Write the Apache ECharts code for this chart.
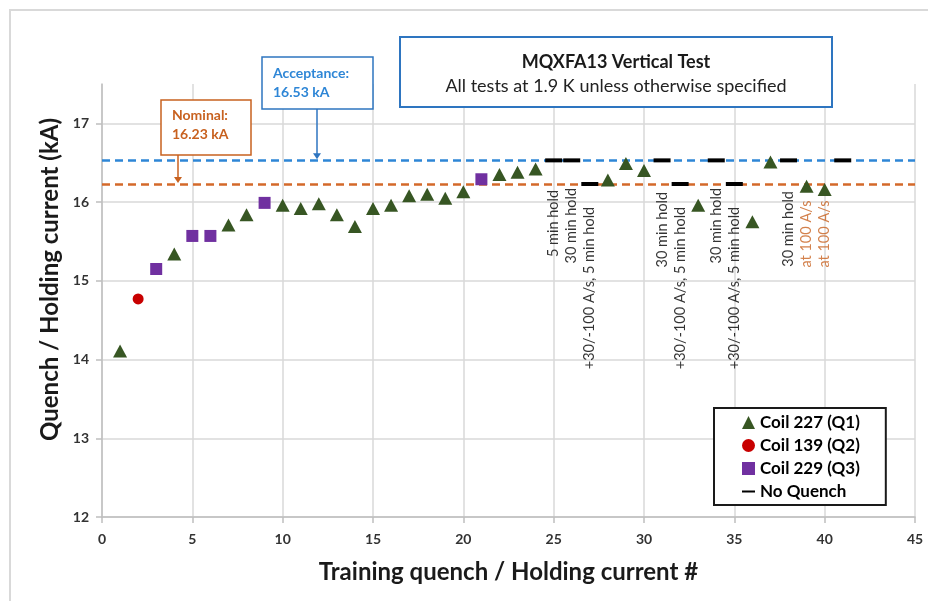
<!DOCTYPE html>
<html>
<head>
<meta charset="utf-8">
<script src="https://cdn.jsdelivr.net/npm/echarts@6/dist/echarts.min.js"></script>
<style>
html,body{margin:0;padding:0;background:#ffffff;}
#chart{width:928px;height:601px;}
</style>
</head>
<body>
<div id="chart"></div>
<script>
// ---------------- data ----------------
const coil227X = [1, 4, 7, 8, 10, 11, 12, 13, 14, 15, 16, 17, 18, 19, 20, 22, 23, 24, 28, 29, 30, 33, 36, 37, 39, 40];
const coil227Y = [14.11, 15.34, 15.71, 15.84, 15.96, 15.92, 15.98, 15.84, 15.69, 15.92, 15.96, 16.08, 16.10, 16.05, 16.13, 16.35, 16.38, 16.42, 16.28, 16.49, 16.40, 15.96, 15.75, 16.51, 16.20, 16.16];

const coil139X = [2];
const coil139Y = [14.77];

const coil229X = [3, 5, 6, 9, 21];
const coil229Y = [15.15, 15.57, 15.57, 15.99, 16.29];

const noQuenchX = [25, 26, 27, 31, 32, 34, 35, 38, 41];
const noQuenchY = [16.53, 16.53, 16.23, 16.53, 16.23, 16.53, 16.23, 16.53, 16.53];

const acceptanceLevel = 16.53;
const nominalLevel = 16.23;

// rotated notes: anchor (end of text) at x, y
const noteX = [25, 26, 27, 31, 32, 34, 35, 38, 39, 40];
const noteY = [16.155, 16.18, 15.94, 16.13, 15.94, 16.18, 15.94, 16.14, 16.02, 16.02];
const noteText = ['5 min hold', '30 min hold', '+30/-100 A/s, 5 min hold', '30 min hold',
  '+30/-100 A/s, 5 min hold', '30 min hold', '+30/-100 A/s, 5 min hold', '30 min hold',
  'at 100 A/s', 'at 100 A/s'];
const noteKind = ['hold', 'hold', 'hold', 'hold', 'hold', 'hold', 'hold', 'hold', 'rate', 'rate'];

const xTicks = { min: 0, max: 45, interval: 5 };
const yTicks = { min: 12, max: 17.5, interval: 1 };

const seriesNames = ['Coil 227 (Q1)', 'Coil 139 (Q2)', 'Coil 229 (Q3)', 'No Quench'];
const xTitle = 'Training quench / Holding current #';
const yTitle = 'Quench / Holding current (kA)';
const titleLine1 = 'MQXFA13 Vertical Test';
const titleLine2 = 'All tests at 1.9 K unless otherwise specified';

// ---------------- styles ----------------
const FONT = "Lato, 'Open Sans', 'Liberation Sans', sans-serif";
const C_GREEN = '#375623';
const C_RED = '#C80000';
const C_PURPLE = '#7030A0';
const C_BLACK = '#000000';
const C_BLUE = '#2E86D6';
const C_ORANGE = '#D4692A';
const C_BOXBLUE = '#2E75C0';
const C_TEXTORANGE = '#C8611F';
const C_GRID = '#D9D9D9';

const zip = (xs, ys) => xs.map((x, i) => [x, ys[i]]);
const dashIcon = 'path://M0,0 L0.01,0 M0,10 L24,10 L24,14 L0,14 Z M0,24 L0.01,24';

const noteData = noteX.map((x, i) => ({
  value: [x, noteY[i]],
  label: {
    show: true,
    formatter: noteText[i],
    rotate: 90,
    position: 'inside',
    align: 'right',
    verticalAlign: 'middle',
    fontSize: 14.5,
    fontFamily: FONT,
    color: noteKind[i] === 'rate' ? C_TEXTORANGE : '#000000'
  }
}));

const chart = echarts.init(document.getElementById('chart'), null, { renderer: 'canvas' });

const option = {
  backgroundColor: '#ffffff',
  animation: false,
  textStyle: { fontFamily: FONT },
  grid: { left: 102, right: 13, top: 84, bottom: 84, containLabel: false },
  legend: {
    orient: 'vertical',
    left: 714,
    top: 408,
    padding: [5, 26, 4, 28],
    itemGap: 4,
    itemWidth: 13,
    itemHeight: 13,
    borderColor: '#1a1a1a',
    borderWidth: 2,
    backgroundColor: '#ffffff',
    selectedMode: false,
    textStyle: { fontSize: 17, fontWeight: 'bold', color: '#000', fontFamily: FONT, lineHeight: 19 },
    data: [
      { name: seriesNames[0], icon: 'triangle' },
      { name: seriesNames[1], icon: 'circle' },
      { name: seriesNames[2], icon: 'rect' },
      { name: seriesNames[3], icon: dashIcon }
    ]
  },
  xAxis: {
    type: 'value',
    min: xTicks.min, max: xTicks.max, interval: xTicks.interval,
    name: xTitle,
    nameLocation: 'middle',
    nameGap: 43,
    nameTextStyle: { fontSize: 24, fontWeight: 'bold', color: '#1a1a1a', fontFamily: FONT },
    axisLine: { show: true, lineStyle: { color: '#BFBFBF', width: 1.5 } },
    axisTick: { show: true, length: 6, lineStyle: { color: '#BFBFBF', width: 1.5 } },
    axisLabel: { margin: 15, fontSize: 14, fontWeight: 'bold', color: '#333', fontFamily: FONT },
    splitLine: { show: true, lineStyle: { color: C_GRID, width: 1.5 } }
  },
  yAxis: {
    type: 'value',
    min: yTicks.min, max: yTicks.max, interval: yTicks.interval,
    name: yTitle,
    nameLocation: 'middle',
    nameGap: 40,
    nameTextStyle: { fontSize: 24, fontWeight: 'bold', color: '#1a1a1a', fontFamily: FONT, padding: [0, 0, 0, 42] },
    axisLine: { show: true, lineStyle: { color: '#BFBFBF', width: 1.5 } },
    axisTick: { show: true, length: 6, lineStyle: { color: '#BFBFBF', width: 1.5 } },
    axisLabel: { margin: 13, fontSize: 14, fontWeight: 'bold', color: '#333', fontFamily: FONT, showMaxLabel: false },
    splitLine: { show: true, showMaxLine: false, lineStyle: { color: C_GRID, width: 1.5 } }
  },
  series: [
    {
      name: 'levels',
      type: 'scatter',
      data: [],
      silent: true,
      z: 1,
      markLine: {
        silent: true,
        z: 1,
        symbol: 'none',
        label: { show: false },
        data: [
          { yAxis: acceptanceLevel, lineStyle: { color: C_BLUE, type: [8, 5], width: 2.5, opacity: 1 } },
          { yAxis: nominalLevel, lineStyle: { color: C_ORANGE, type: [8, 5], width: 2.5, opacity: 1 } }
        ]
      }
    },
    {
      name: seriesNames[3],
      type: 'scatter',
      symbol: 'rect',
      symbolSize: [17, 4],
      itemStyle: { color: C_BLACK, opacity: 1 },
      data: zip(noQuenchX, noQuenchY),
      z: 6
    },
    {
      name: seriesNames[0],
      type: 'scatter',
      symbol: 'triangle',
      symbolSize: [14, 13],
      itemStyle: { color: C_GREEN, opacity: 1 },
      data: zip(coil227X, coil227Y),
      z: 7
    },
    {
      name: seriesNames[1],
      type: 'scatter',
      symbol: 'circle',
      symbolSize: 11,
      itemStyle: { color: C_RED, opacity: 1 },
      data: zip(coil139X, coil139Y),
      z: 7
    },
    {
      name: seriesNames[2],
      type: 'scatter',
      symbol: 'rect',
      symbolSize: 12,
      itemStyle: { color: C_PURPLE, opacity: 1 },
      data: zip(coil229X, coil229Y),
      z: 7
    },
    {
      name: 'notes',
      type: 'scatter',
      symbolSize: 1,
      itemStyle: { color: 'rgba(0,0,0,0)' },
      silent: true,
      data: noteData,
      z: 2
    }
  ]
};

chart.setOption(option);

// annotation boxes (pixel layout), arrows end on the level lines
const accY = chart.convertToPixel({ gridIndex: 0 }, [0, acceptanceLevel])[1];
const nomY = chart.convertToPixel({ gridIndex: 0 }, [0, nominalLevel])[1];

function arrow(x, y0, y1, color) {
  return [
    { type: 'line', shape: { x1: x, y1: y0, x2: x, y2: y1 - 6 }, style: { stroke: color, lineWidth: 1.5 }, z: 10 },
    { type: 'polygon', shape: { points: [[x - 4, y1 - 7], [x + 4, y1 - 7], [x, y1 - 1]] }, style: { fill: color }, z: 10 }
  ];
}

const accBox = { x: 262, y: 57, w: 111, h: 52, ax: 317 };
const nomBox = { x: 161, y: 100, w: 90, h: 55, ax: 178 };

chart.setOption({
  graphic: [
    { type: 'rect', shape: { x: 10, y: 10, width: 940, height: 620 }, style: { fill: 'none', stroke: '#D9D9D9', lineWidth: 2 }, z: 0, silent: true },
    // title box
    { type: 'rect', shape: { x: 400, y: 37, width: 432, height: 70 }, style: { fill: '#fff', stroke: C_BOXBLUE, lineWidth: 2 }, z: 10 },
    { type: 'text', x: 616, y: 62, style: { text: titleLine1, fill: '#1a1a1a', font: 'bold 18px ' + FONT, textAlign: 'center', textVerticalAlign: 'middle' }, z: 11 },
    { type: 'text', x: 616, y: 86, style: { text: titleLine2, fill: '#222', font: '18px ' + FONT, textAlign: 'center', textVerticalAlign: 'middle' }, z: 11 },
    // acceptance
    { type: 'rect', shape: { x: accBox.x, y: accBox.y, width: accBox.w, height: accBox.h }, style: { fill: '#fff', stroke: C_BOXBLUE, lineWidth: 1.5 }, z: 10 },
    { type: 'text', x: accBox.x + 11, y: accBox.y + 16, style: { text: 'Acceptance:', fill: C_BLUE, font: 'bold 14px ' + FONT, textVerticalAlign: 'middle' }, z: 11 },
    { type: 'text', x: accBox.x + 11, y: accBox.y + 35, style: { text: '16.53 kA', fill: C_BLUE, font: 'bold 14px ' + FONT, textVerticalAlign: 'middle' }, z: 11 },
    ...arrow(accBox.ax, accBox.y + accBox.h, accY, C_BOXBLUE),
    // nominal
    { type: 'rect', shape: { x: nomBox.x, y: nomBox.y, width: nomBox.w, height: nomBox.h }, style: { fill: '#fff', stroke: C_TEXTORANGE, lineWidth: 1.5 }, z: 10 },
    { type: 'text', x: nomBox.x + 11, y: nomBox.y + 15, style: { text: 'Nominal:', fill: C_TEXTORANGE, font: 'bold 14px ' + FONT, textVerticalAlign: 'middle' }, z: 11 },
    { type: 'text', x: nomBox.x + 11, y: nomBox.y + 34, style: { text: '16.23 kA', fill: C_TEXTORANGE, font: 'bold 14px ' + FONT, textVerticalAlign: 'middle' }, z: 11 },
    ...arrow(nomBox.ax, nomBox.y + nomBox.h, nomY, C_TEXTORANGE)
  ]
});
</script>
</body>
</html>
